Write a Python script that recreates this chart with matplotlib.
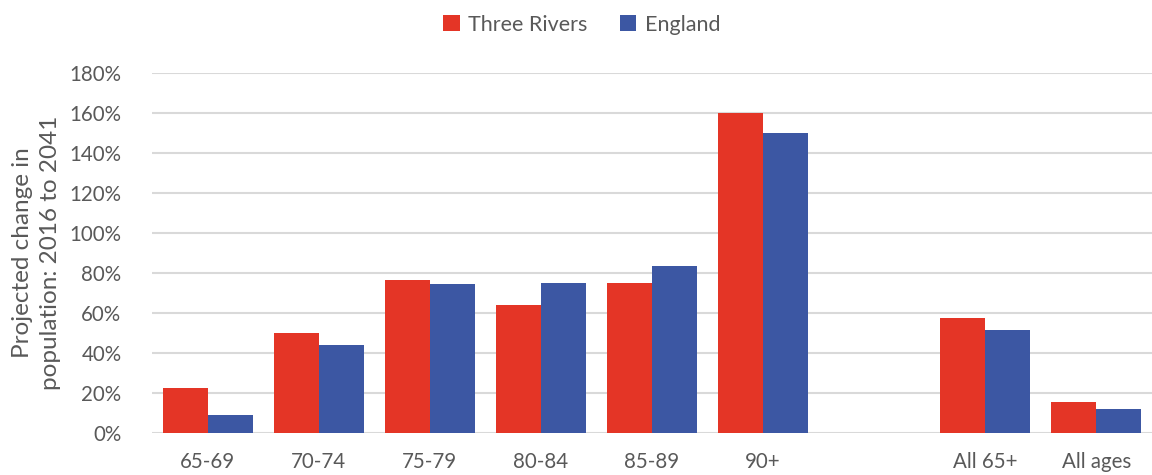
import matplotlib.pyplot as plt
import numpy as np
from matplotlib.ticker import PercentFormatter

plt.rcParams['font.family'] = ['Lato', 'DejaVu Sans']

categories = ['65-69', '70-74', '75-79', '80-84', '85-89', '90+', '', 'All 65+', 'All ages']
three_rivers = [22.3, 50, 76.5, 64, 75, 160, np.nan, 57.5, 15.7]
england = [8.8, 44, 74.5, 75, 83.5, 150, np.nan, 51.5, 12]

red = '#E43526'
blue = '#3C57A3'
grey = '#595959'

fig = plt.figure(figsize=(11.52, 4.75), dpi=100)
ax = fig.add_axes([152 / 1152, 1 - 433 / 475, 1 - 152 / 1152, (433 - 73) / 475])

x = np.arange(len(categories))
w = 0.405
ax.bar(x - w / 2, three_rivers, w, color=red, label='Three Rivers', zorder=3)
ax.bar(x + w / 2, england, w, color=blue, label='England', zorder=3)

ax.set_xlim(-0.5, len(categories) - 0.5)
ax.set_ylim(0, 180)
ax.set_yticks(np.arange(0, 181, 20))
ax.yaxis.set_major_formatter(PercentFormatter(decimals=0))
ax.set_xticks(x)
ax.set_xticklabels(categories)
ax.grid(axis='y', color='#D9D9D9', linewidth=1.5, zorder=0)
for s in ax.spines.values():
    s.set_visible(False)
ax.tick_params(length=0, labelsize=14.8, labelcolor=grey)
ax.tick_params(axis='x', pad=14)
ax.tick_params(axis='y', pad=22)

ax.set_ylabel('Projected change in\npopulation: 2016 to 2041', fontsize=17.5, color=grey,
              labelpad=6, linespacing=1.4)

fig.legend(loc='upper center', bbox_to_anchor=(0.505, 1.01), ncol=2, frameon=False,
           fontsize=15.5, labelcolor=grey, handlelength=0.75, handleheight=0.75,
           handletextpad=0.4, columnspacing=1.5)

fig.savefig('out.png', dpi=100)
